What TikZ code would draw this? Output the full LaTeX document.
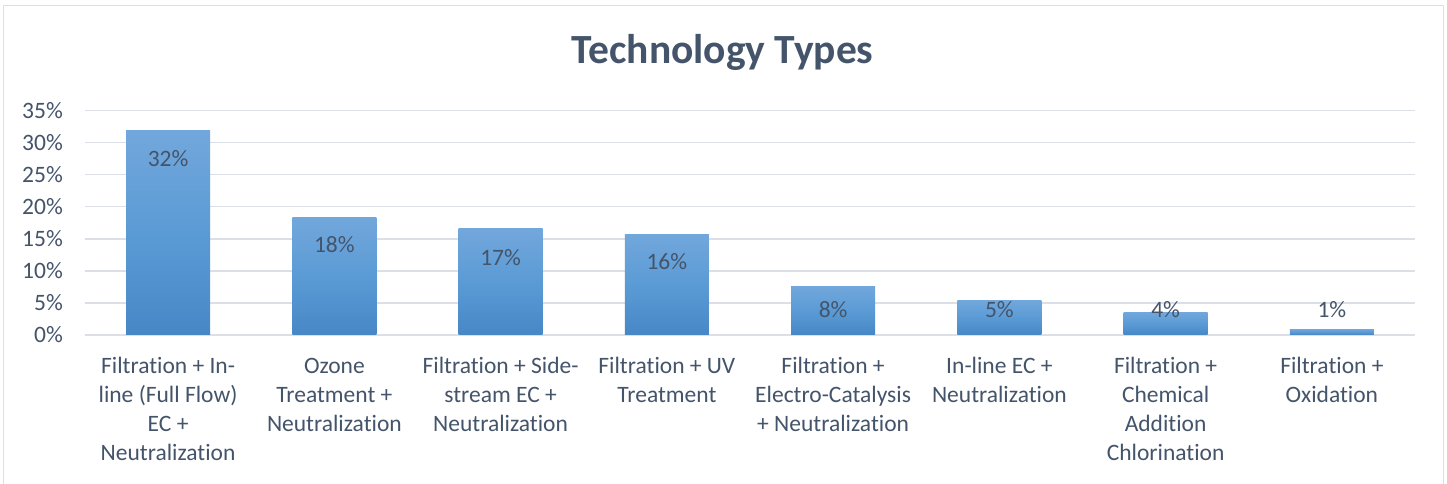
\documentclass[tikz,border=0pt]{standalone}
\usepackage{fontspec}
\setmainfont{Carlito}[Ligatures={NoCommon,NoRare,NoContextual},Contextuals={NoAlternate}]
\newcommand\tiX{t\kern0pt i}
\definecolor{txt}{HTML}{44546A}
\definecolor{gridc}{HTML}{DCE0E6}
\definecolor{framec}{HTML}{DCE0E6}
\definecolor{bartop}{HTML}{72A7DC}
\definecolor{barmid}{HTML}{5B9BD5}
\definecolor{barbot}{HTML}{4787C6}
\tikzset{
  gridline/.style={draw=gridc, line width=1.5pt},
  barbox/.style={top color=bartop, bottom color=barbot, middle color=barmid, draw=none},
  axislabel/.style={anchor=east, inner sep=0pt, text=txt, font=\fontsize{23.5}{29}\selectfont},
  datalabel/.style={anchor=center, inner sep=0pt, text=txt, font=\fontsize{23.5}{29}\selectfont},
  catlabel/.style={anchor=north, inner sep=0pt, align=center, text=txt, font=\fontsize{23.5}{29}\selectfont},
  titlelabel/.style={anchor=base, inner sep=0pt, text=txt, font=\fontsize{41.5}{48}\selectfont\bfseries}
}
\begin{document}
\begin{tikzpicture}[x=1pt, y=-1pt]
\useasboundingbox (0,0) rectangle (1447,483);
\fill[white] (0,0) rectangle (1447,483);
% frame
\draw[draw=framec, line width=1.5pt] (3.5,490) -- (3.5,5.5) -- (1443.5,5.5) -- (1443.5,490);
% title
\node[titlelabel] (title) at (722.5,63.5) {Technology Types};
% gridlines and axis labels
\foreach \v [count=\i from 0] in {0,5,10,15,20,25,30,35} {
  \pgfmathsetmacro{\yy}{335-32.07*\i}
  \draw[gridline] (85,\yy) -- (1415,\yy);
  \node[axislabel] (ax\i) at (63,\yy) {\v\%};
}
% bars
\foreach \top/\lab/\ly [count=\i] in {130/32/159, 217/18/244.5, 228.3/17/257.3, 234/16/261.7, 286/8/309.3, 300/5/310, 312/4/310, 329/1/310} {
  \pgfmathsetmacro{\cx}{85+166.25*(\i-0.5)}
  \path[barbox] (\cx-42,\top) rectangle (\cx+42,334.5);
  \node[datalabel] (dl\i) at (\cx,\ly) {\lab\%};
}
% category labels
\node[catlabel] (c1) at (168.1,356.5) {\vphantom{l}Filtra\tiX on + In-\\line (Full Flow)\\EC +\\Neutraliza\tiX on};
\node[catlabel] (c2) at (334.4,356.5) {\vphantom{l}Ozone\\Treatment +\\Neutraliza\tiX on};
\node[catlabel] (c3) at (500.6,356.5) {\vphantom{l}Filtra\tiX on + Side-\\stream EC +\\Neutraliza\tiX on};
\node[catlabel] (c4) at (666.9,356.5) {\vphantom{l}Filtra\tiX on + UV\\Treatment};
\node[catlabel] (c5) at (833.1,356.5) {\vphantom{l}Filtra\tiX on +\\Electro-Catalysis\\+ Neutraliza\tiX on};
\node[catlabel] (c6) at (999.4,356.5) {\vphantom{l}In-line EC +\\Neutraliza\tiX on};
\node[catlabel] (c7) at (1165.6,356.5) {\vphantom{l}Filtra\tiX on +\\Chemical\\Addi\tiX on\\Chlorina\tiX on};
\node[catlabel] (c8) at (1331.9,356.5) {\vphantom{l}Filtra\tiX on +\\Oxida\tiX on};
\end{tikzpicture}
\end{document}
